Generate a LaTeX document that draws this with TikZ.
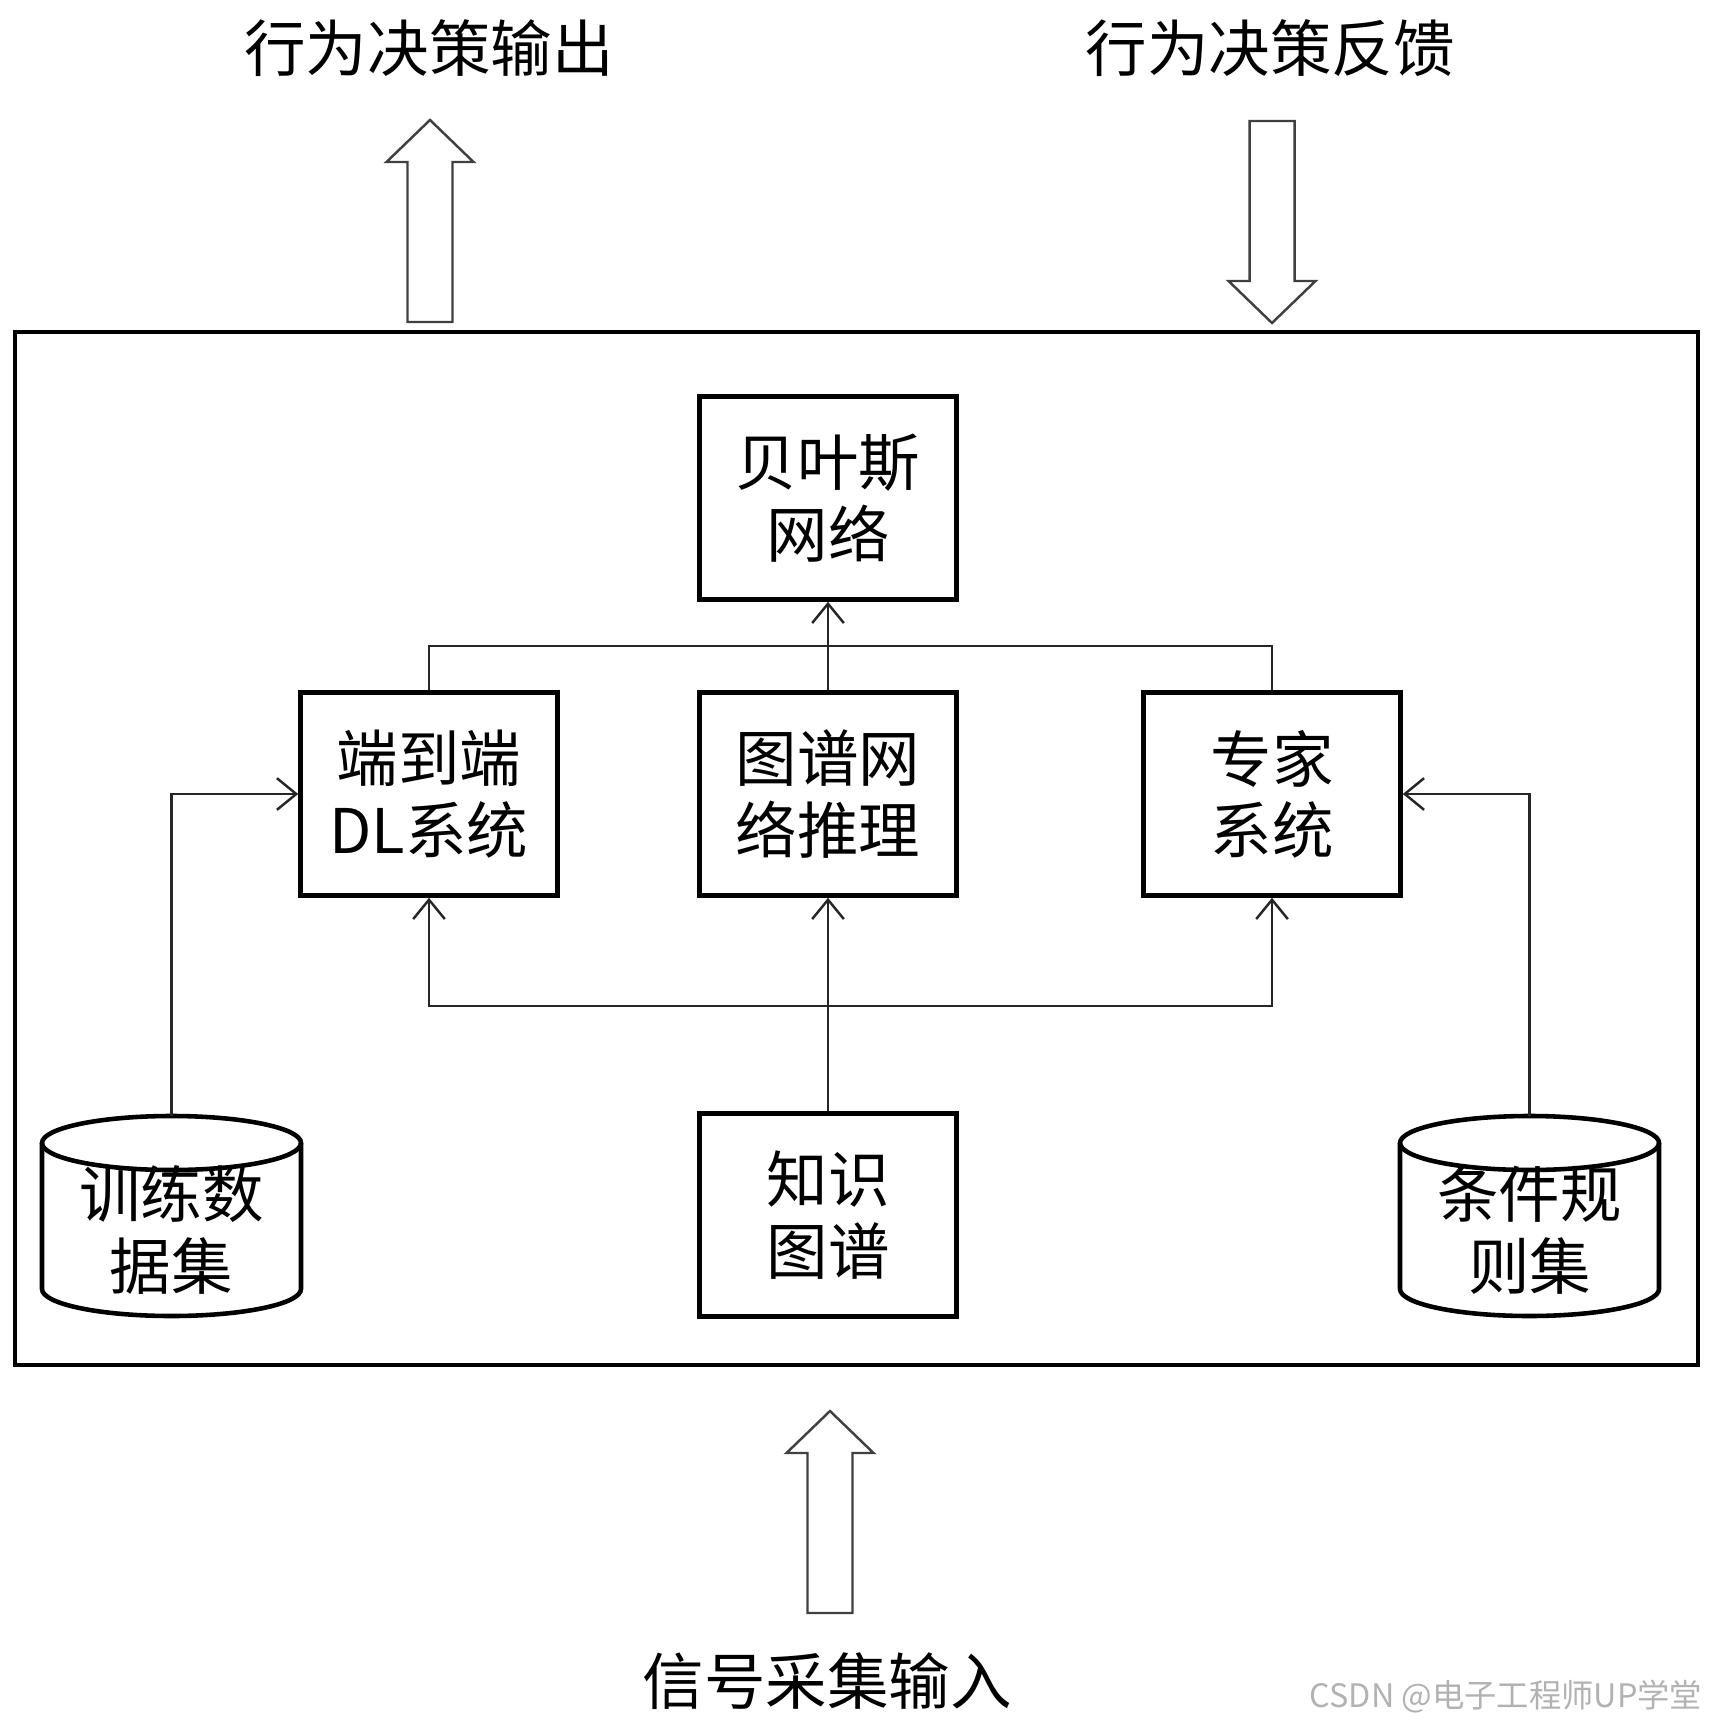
\documentclass[tikz,border=0pt]{standalone}
\usepackage{fontspec}
\newfontfamily\cjk{Noto Sans CJK SC}
\usetikzlibrary{arrows.meta}

\begin{document}
\begin{tikzpicture}[
		box/.style={draw,line width=1.3pt,minimum width=2.57cm,minimum height=2.03cm,
			align=center,inner sep=0pt,font=\cjk\fontsize{17.5}{20.3}\selectfont},
		dbtext/.style={align=center,inner sep=0pt,font=\cjk\fontsize{17.5}{20.3}\selectfont},
		title/.style={inner sep=0pt,font=\cjk\fontsize{17.5}{20.3}\selectfont},
		link/.style={line width=0.7pt,black!85},
		>={Straight Barb[length=5.5pt,width=9pt]},
		blockarrow/.style={draw=black!75,line width=0.7pt,fill=white},
		hollow/.pic={
			\path[blockarrow] (-0.225,0) -- (-0.225,1.60) -- (-0.435,1.60) -- (0,2.02)
				-- (0.435,1.60) -- (0.225,1.60) -- (0.225,0) -- cycle;},
		database/.pic={
			\draw[line width=1.3pt,fill=white] (-1.295,-0.27) -- (-1.295,-1.73)
				arc[start angle=180,end angle=360,x radius=1.295,y radius=0.27] -- (1.295,-0.27);
			\draw[line width=1.3pt] (0,-0.27) ellipse[x radius=1.295,y radius=0.27];}
	]
	\useasboundingbox (0,0) rectangle (17.14,-17.30);

	% titles and block arrows
	\node[title] (outtitle) at (4.29,-0.48) {行为决策输出};
	\node[title] (fbtitle) at (12.70,-0.48) {行为决策反馈};
	\node[title] (intitle) at (8.27,-16.81) {信号采集输入};
	\pic at (4.30,-3.22) {hollow};
	\pic[rotate=180] at (12.72,-1.21) {hollow};
	\pic at (8.30,-16.13) {hollow};

	% system frame
	\draw[line width=1.4pt] (0.15,-3.32) rectangle (16.98,-13.65);

	\node[box] (bayes) at (8.28,-4.98) {贝叶斯\\网络};
	\node[box] (dl) at (4.29,-7.94) {端到端\\DL系统};
	\node[box] (graphnet) at (8.28,-7.94) {图谱网\\络推理};
	\node[box] (expert) at (12.72,-7.94) {专家\\系统};
	\node[box] (kg) at (8.28,-12.15) {知识\\图谱};

	\pic at (1.715,-11.16) {database};
	\pic at (15.295,-11.16) {database};
	\node[dbtext] (train) at (1.715,-12.30) {训练数\\据集};
	\node[dbtext] (rules) at (15.295,-12.30) {条件规\\则集};
	\coordinate (traintop) at (1.715,-11.16);
	\coordinate (rulestop) at (15.295,-11.16);
	\coordinate (hub) at (8.28,-10.06);

	\draw[link,->] (graphnet.north) -- (bayes.south);
	\draw[link] (dl.north) -- ++(0,0.44) -| (expert.north);
	\draw[link,->] (kg.north) -- (graphnet.south);
	\draw[link,->] (hub) -| (dl.south);
	\draw[link,->] (hub) -| (expert.south);
	\draw[link,->] (traintop) |- (dl.west);
	\draw[link,->] (rulestop) |- (expert.east);

	\node[font=\cjk\fontsize{9.2}{11}\selectfont,text=black!30] (mark) at (15.06,-16.97)
		{CSDN @电子工程师UP学堂};
\end{tikzpicture}
\end{document}
